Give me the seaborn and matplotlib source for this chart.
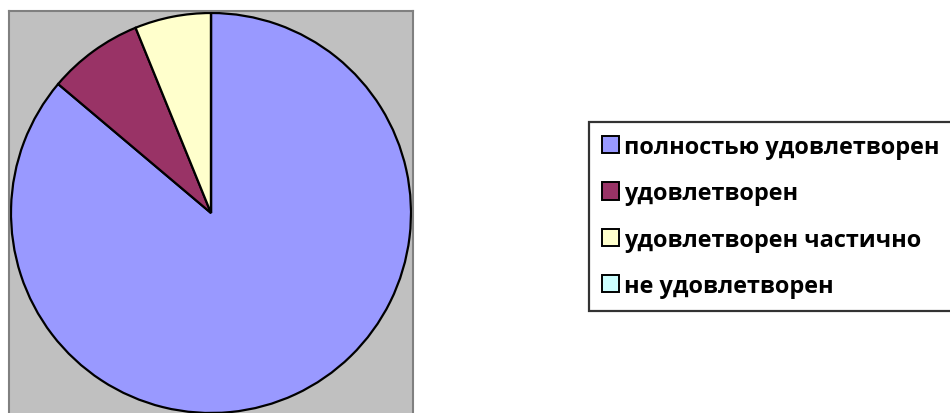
import matplotlib
matplotlib.use("Agg")
import matplotlib.pyplot as plt
import matplotlib.patches as mpatches
import seaborn as sns

# survey answers (counts)
labels = ["полностью удовлетворен", "удовлетворен", "удовлетворен частично", "не удовлетворен"]
counts = [56, 5, 4, 0]
colors = ["#9999FF", "#993366", "#FFFFCC", "#CCFFFF"]

sns.set_style("white")
plt.rcParams["font.family"] = ["Open Sans", "DejaVu Sans"]

W, H = 950, 414
fig = plt.figure(figsize=(W / 100, H / 100), dpi=100)

# gray plot area, square, pie fills it
ax = fig.add_axes([9 / W, (H - 416) / H, 404 / W, 404 / H])
wedges, _ = ax.pie(counts, colors=colors, startangle=90, counterclock=False,
                   radius=1.0, frame=True,
                   wedgeprops=dict(edgecolor="black", linewidth=1.6))
ax.set_facecolor("#C0C0C0")
for s in ax.spines.values():
    s.set_visible(True)
    s.set_color("#808080")
    s.set_linewidth(1.5)
ax.set_xlim(-1.01, 1.01)
ax.set_ylim(-1.01, 1.01)
ax.set_xticks([])
ax.set_yticks([])

handles = [mpatches.Patch(facecolor=c, edgecolor="black", linewidth=1.4) for c in colors]
leg = fig.legend(handles, labels, loc="upper left",
                 bbox_to_anchor=(589 / W, 1 - 123 / H),
                 frameon=True, fancybox=False, shadow=False,
                 prop=dict(weight="bold", size=16.9),
                 handlelength=0.74, handleheight=0.74, handletextpad=0.22,
                 labelspacing=0.95, borderpad=0.55, borderaxespad=0,
                 labelcolor="black")
leg.get_frame().set_edgecolor("black")
leg.get_frame().set_linewidth(1.6)

fig.savefig("out.png", dpi=100)
